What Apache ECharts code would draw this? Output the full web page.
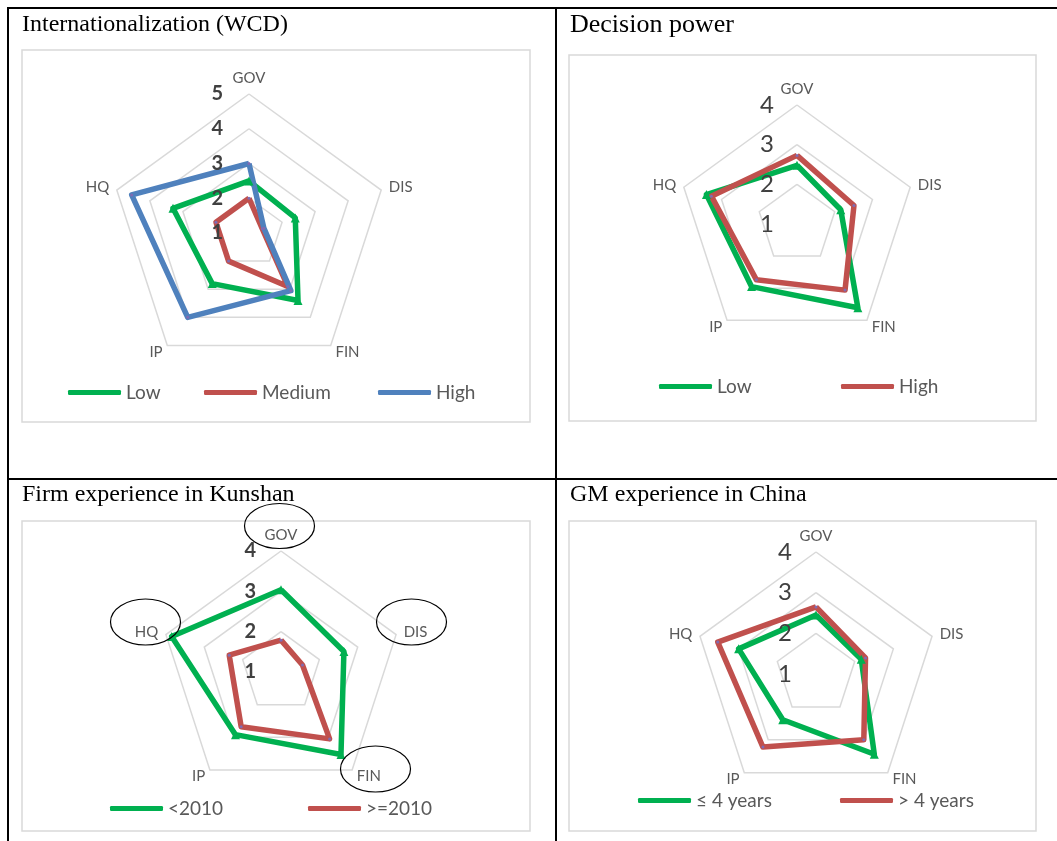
<!DOCTYPE html>
<html>
<head>
<meta charset="utf-8">
<title>Radar profiles</title>
<script src="https://cdn.jsdelivr.net/npm/echarts@6/dist/echarts.min.js"></script>
<style>
  html, body { margin: 0; padding: 0; background: #fff; }
  #chart { width: 1057px; height: 841px; }
</style>
</head>
<body>
<div id="chart"></div>
<script>
// Dimensions, listed clockwise from the top
const categories = ['GOV', 'DIS', 'FIN', 'IP', 'HQ'];

// Internationalization (WCD)
const intlTicks = [1, 2, 3, 4, 5];
const intlLow = [2.5, 2.4, 3.4, 2.8, 3.3];
const intlMedium = [2.0, 1.4, 2.9, 2.0, 2.0];
const intlHigh = [3.0, 1.45, 3.05, 4.0, 4.55];

// Decision power
const powerTicks = [1, 2, 3, 4];
const powerLow = [2.48, 2.16, 3.61, 2.95, 3.4];
const powerHigh = [2.73, 2.51, 3.06, 2.74, 3.27];

// Firm experience in Kunshan
const firmTicks = [1, 2, 3, 4];
const firmBefore2010 = [3.04, 2.64, 3.53, 2.92, 3.85];
const firmSince2010 = [1.79, 1.56, 3.05, 2.68, 2.35];

// GM experience in China
const gmTicks = [1, 2, 3, 4];
const gmShort = [2.45, 2.17, 3.44, 2.39, 3.0];
const gmLong = [2.65, 2.28, 3.0, 3.22, 3.54];

const GREEN = '#00B050', RED = '#C0504D', BLUE = '#4F81BD', DOT = '#7F6BB3';
const SANS = 'Lato, "Open Sans", sans-serif';

// ECharts lays radar axes out counter-clockwise, so reorder the clockwise lists
const drawOrder = [0, 4, 3, 2, 1];
const reorder = arr => drawOrder.map(i => arr[i]);

// Grid radar: rings and dimension names (series are drawn on these)
function makeRadar(center, radius, ticks) {
  return {
    center: center,
    radius: radius,
    shape: 'polygon',
    startAngle: 90,
    splitNumber: ticks.length - 1,
    nameGap: 8,
    axisName: { color: '#595959', fontSize: 15, fontFamily: SANS },
    indicator: drawOrder.map(i => ({ name: categories[i], min: ticks[0], max: ticks[ticks.length - 1] })),
    axisLine: { show: false },
    axisTick: { show: false },
    axisLabel: { show: false },
    splitLine: { lineStyle: { color: '#d9d9d9', width: 1.5 } },
    splitArea: { show: false }
  };
}

// Overlay radar at the same place carrying only the value labels on the GOV axis,
// kept above the series lines
function makeLabelRadar(center, radius, ticks, labelStyle) {
  return {
    z: 5,
    center: center,
    radius: radius,
    shape: 'polygon',
    startAngle: 90,
    splitNumber: ticks.length - 1,
    axisName: { show: false },
    indicator: drawOrder.map((i, k) => {
      const ind = { name: categories[i], min: ticks[0], max: ticks[ticks.length - 1] };
      if (k === 0) ind.axisLabel = Object.assign({ show: true, fontFamily: SANS, color: '#404040' }, labelStyle);
      return ind;
    }),
    axisLine: { show: false },
    axisTick: { show: false },
    axisLabel: { show: false },
    splitLine: { show: false },
    splitArea: { show: false }
  };
}

function makeSeries(radarIndex, name, values, color, marker) {
  return {
    type: 'radar',
    radarIndex: radarIndex,
    name: name,
    z: 2,
    symbol: marker === 'triangle' ? 'triangle' : 'circle',
    symbolSize: marker === 'triangle' ? 9 : 3,
    itemStyle: { color: marker === 'triangle' ? color : DOT },
    lineStyle: { color: color, width: 5.5 },
    data: [{ name: name, value: reorder(values) }]
  };
}

function makeLegend(name, color, left, centerY) {
  return {
    data: [{ name: name, itemStyle: { color: color } }],
    left: left,
    top: centerY - 9,
    padding: 0,
    icon: 'roundRect',
    itemWidth: 53,
    itemHeight: 5,
    selectedMode: false,
    textStyle: { color: '#595959', fontSize: 19, fontFamily: SANS }
  };
}

const serif = '"Liberation Serif", "Times New Roman", serif';
const titleStyle = size => ({ fontFamily: serif, fontSize: size, fontWeight: 'normal', color: '#000' });

const option = {
  backgroundColor: '#fff',
  animation: false,
  title: [
    { text: 'Internationalization (WCD)', left: 22, top: 13, padding: 0, textStyle: titleStyle(24) },
    { text: 'Decision power', left: 570, top: 12, padding: 0, textStyle: titleStyle(26) },
    { text: 'Firm experience in Kunshan', left: 22, top: 483, padding: 0, textStyle: titleStyle(24) },
    { text: 'GM experience in China', left: 570, top: 483, padding: 0, textStyle: titleStyle(24) }
  ],
  radar: [
    makeRadar([249, 233], 139, intlTicks),
    makeRadar([797, 224], 119, powerTicks),
    makeRadar([281, 672], 121, firmTicks),
    makeRadar([816, 674], 122, gmTicks),
    makeLabelRadar([249, 233], 139, intlTicks, { margin: 26, fontSize: 20, fontWeight: 'bold', padding: [6, 0, 0, 0] }),
    makeLabelRadar([797, 224], 119, powerTicks, { margin: 23, fontSize: 24, padding: [2, 0, 0, 0] }),
    makeLabelRadar([281, 672], 121, firmTicks, { margin: 25, fontSize: 20, fontWeight: 'bold', padding: [4, 0, 0, 0] }),
    makeLabelRadar([816, 674], 122, gmTicks, { margin: 24, fontSize: 24, padding: [3, 0, 0, 0] })
  ],
  legend: [
    makeLegend('Low', GREEN, 68, 392),
    makeLegend('Medium', RED, 204, 392),
    makeLegend('High', BLUE, 378, 392),
    makeLegend('Low', GREEN, 659, 386),
    makeLegend('High', RED, 841, 386),
    makeLegend('<2010', GREEN, 110, 808),
    makeLegend('>=2010', RED, 308, 808),
    makeLegend('≤ 4 years', GREEN, 638, 800),
    makeLegend('> 4 years', RED, 840, 800)
  ],
  series: [
    makeSeries(0, 'Low', intlLow, GREEN, 'triangle'),
    makeSeries(0, 'Medium', intlMedium, RED, 'dot'),
    makeSeries(0, 'High', intlHigh, BLUE, 'dot'),
    makeSeries(1, 'Low', powerLow, GREEN, 'triangle'),
    makeSeries(1, 'High', powerHigh, RED, 'dot'),
    makeSeries(2, '<2010', firmBefore2010, GREEN, 'triangle'),
    makeSeries(2, '>=2010', firmSince2010, RED, 'dot'),
    makeSeries(3, '≤ 4 years', gmShort, GREEN, 'triangle'),
    makeSeries(3, '> 4 years', gmLong, RED, 'dot')
  ],
  graphic: [
    // chart-area frames
    { type: 'rect', z: -1, shape: { x: 22, y: 50, width: 508, height: 372 }, style: { fill: 'none', stroke: '#d9d9d9', lineWidth: 1.5 } },
    { type: 'rect', z: -1, shape: { x: 569, y: 55, width: 467, height: 366 }, style: { fill: 'none', stroke: '#d9d9d9', lineWidth: 1.5 } },
    { type: 'rect', z: -1, shape: { x: 22, y: 521, width: 508, height: 310 }, style: { fill: 'none', stroke: '#d9d9d9', lineWidth: 1.5 } },
    { type: 'rect', z: -1, shape: { x: 569, y: 521, width: 467, height: 310 }, style: { fill: 'none', stroke: '#d9d9d9', lineWidth: 1.5 } },
    // table rules
    { type: 'line', z: 10, shape: { x1: 7, y1: 8, x2: 1057, y2: 8 }, style: { stroke: '#000', lineWidth: 2 } },
    { type: 'line', z: 10, shape: { x1: 8, y1: 7, x2: 8, y2: 841 }, style: { stroke: '#000', lineWidth: 2 } },
    { type: 'line', z: 10, shape: { x1: 556, y1: 7, x2: 556, y2: 841 }, style: { stroke: '#000', lineWidth: 2 } },
    { type: 'line', z: 10, shape: { x1: 7, y1: 479, x2: 1057, y2: 479 }, style: { stroke: '#000', lineWidth: 2 } },
    // highlighted dimensions in the firm-experience panel
    { type: 'ellipse', z: 10, shape: { cx: 279.5, cy: 526, rx: 35, ry: 22.5 }, style: { fill: 'none', stroke: '#000', lineWidth: 1.2 } },
    { type: 'ellipse', z: 10, shape: { cx: 145.5, cy: 622, rx: 35, ry: 23 }, style: { fill: 'none', stroke: '#000', lineWidth: 1.2 } },
    { type: 'ellipse', z: 10, shape: { cx: 411.5, cy: 622, rx: 35, ry: 23 }, style: { fill: 'none', stroke: '#000', lineWidth: 1.2 } },
    { type: 'ellipse', z: 10, shape: { cx: 375.5, cy: 769, rx: 35, ry: 23 }, style: { fill: 'none', stroke: '#000', lineWidth: 1.2 } }
  ]
};

const chart = echarts.init(document.getElementById('chart'), null, { renderer: 'canvas' });
chart.setOption(option);
</script>
</body>
</html>
